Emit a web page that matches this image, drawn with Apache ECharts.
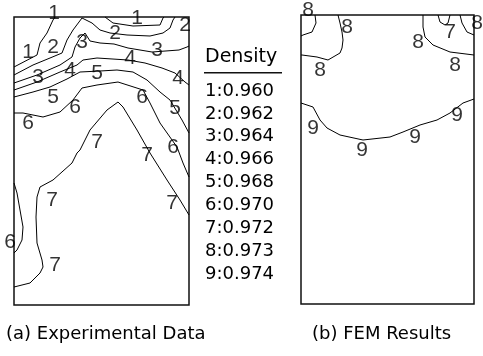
<!DOCTYPE html>
<html>
<head>
<meta charset="utf-8">
<script src="https://cdn.jsdelivr.net/npm/echarts@6/dist/echarts.min.js"></script>
<style>
  html, body { margin: 0; padding: 0; background: #fff; }
  #chart { width: 483px; height: 356px; }
</style>
</head>
<body>
<div id="chart"></div>
<script>
// density legend
var levels = [1, 2, 3, 4, 5, 6, 7, 8, 9];
var densities = [0.960, 0.962, 0.964, 0.966, 0.968, 0.970, 0.972, 0.973, 0.974];

// (a) experimental data - contour lines, x right / y down from top-left corner of the specimen
var expC1a = [[0, 50], [23, 38], [26, 26], [33, 16], [39, 3], [41, 0]];
var expC1b = [[91, 0], [99, 6], [119, 9], [146, 8], [149, 1], [150, 0]];
var expC2 = [[0, 58], [19, 48], [36, 41], [48, 36], [53, 23], [59, 13], [68, 1], [69, 0],
  [78, 6], [86, 13], [96, 16], [113, 18], [136, 19], [149, 16], [156, 11], [159, 3], [161, 0]];
var expC3 = [[0, 66], [23, 58], [46, 48], [58, 40], [61, 30], [66, 21], [71, 16], [76, 24],
  [86, 26], [100, 27], [114, 31], [138, 35], [165, 33], [173, 30], [175, 29]];
var expC4 = [[0, 73], [23, 65], [46, 55], [63, 48], [69, 43], [83, 41], [114, 43], [131, 46],
  [148, 51], [161, 56], [171, 65], [175, 68]];
var expC5 = [[0, 80], [19, 75], [36, 70], [53, 62], [66, 55], [86, 54], [103, 53], [119, 55],
  [133, 63], [146, 75], [156, 83], [168, 103], [175, 116]];
var expC6a = [[0, 96], [9, 96], [29, 100], [46, 95], [59, 83], [68, 71], [83, 68], [104, 65],
  [129, 73], [136, 86], [146, 106], [163, 130], [169, 146], [175, 160]];
var expC6b = [[0, 166], [3, 176], [6, 193], [9, 210], [8, 223], [3, 233], [0, 236]];
var expC7 = [[0, 270], [16, 266], [26, 256], [29, 250], [28, 243], [23, 226], [22, 200], [23, 180],
  [26, 170], [39, 163], [58, 146], [63, 136], [66, 133], [76, 113], [93, 93], [104, 85],
  [109, 90], [123, 113], [136, 136], [153, 163], [166, 183], [175, 198]];
var expLabels = [
  [40, -4, '1'], [14, 35, '1'], [123, 1, '1'],
  [39, 30, '2'], [101, 16, '2'], [171, 8, '2'],
  [24, 60, '3'], [68, 25, '3'], [143, 33, '3'],
  [56, 53, '4'], [116, 41, '4'], [164, 61, '4'],
  [39, 80, '5'], [83, 56, '5'], [161, 91, '5'],
  [14, 106, '6'], [61, 90, '6'], [128, 80, '6'], [159, 130, '6'], [-4, 225, '6'],
  [83, 125, '7'], [133, 138, '7'], [158, 186, '7'], [38, 183, '7'], [41, 248, '7']
];

// (b) FEM results
var femC8a = [[14, 0], [15, 8], [11, 17], [2, 20], [0, 21]];
var femC8b = [[37, 0], [39, 8], [41, 17], [42, 25], [41, 33], [39, 38], [27, 45], [16, 42], [1, 40], [0, 40]];
var femC8c = [[122, 0], [122, 12], [124, 22], [132, 30], [149, 37], [173, 40]];
var femC7 = [[137, 0], [139, 7], [144, 10], [147, 8], [149, 0]];
var femC8d = [[159, 0], [161, 8], [166, 17], [173, 20]];
var femC9 = [[0, 88], [12, 92], [19, 105], [26, 113], [39, 120], [62, 125], [89, 122], [102, 117],
  [119, 110], [136, 105], [149, 98], [162, 88], [173, 84]];
var femLabels = [
  [7, -5, '8'], [46, 12, '8'], [19, 55, '8'], [117, 27, '8'], [154, 50, '8'], [176, 8, '8'],
  [149, 17, '7'],
  [12, 113, '9'], [61, 135, '9'], [114, 122, '9'], [156, 100, '9']
];

var FONT = 'DejaVu Sans';
var LABEL_FONT = 'Liberation Sans';

function contourLine(points, idx) {
  return {
    type: 'line',
    xAxisIndex: idx,
    yAxisIndex: idx,
    data: points,
    symbol: 'none',
    clip: false,
    silent: true,
    lineStyle: { color: '#000', width: 1 }
  };
}

function contourLabels(points, idx) {
  return {
    type: 'scatter',
    xAxisIndex: idx,
    yAxisIndex: idx,
    data: points,
    symbolSize: 1,
    clip: false,
    silent: true,
    itemStyle: { color: 'rgba(0,0,0,0)' },
    label: {
      show: true,
      position: 'inside',
      formatter: function (p) { return p.value[2]; },
      fontFamily: LABEL_FONT,
      fontSize: 21,
      color: '#000'
    }
  };
}

var series = [];
[expC1a, expC1b, expC2, expC3, expC4, expC5, expC6a, expC6b, expC7].forEach(function (c) {
  series.push(contourLine(c, 0));
});
[femC8a, femC8b, femC8c, femC7, femC8d, femC9].forEach(function (c) {
  series.push(contourLine(c, 1));
});
series.push(contourLabels(expLabels, 0));
series.push(contourLabels(femLabels, 1));

var legendTexts = levels.map(function (l, i) {
  return {
    type: 'text',
    left: 205,
    top: 92 + i * 22.9 - 10,
    style: { text: l + ':' + densities[i].toFixed(3), font: '18px "' + FONT + '"', fill: '#000' }
  };
});

var chart = echarts.init(document.getElementById('chart'));
chart.setOption({
  animation: false,
  grid: [
    { left: 14, top: 17, width: 175, height: 288, show: true, borderColor: '#111', borderWidth: 1.5, backgroundColor: '#fff' },
    { left: 301, top: 15, width: 173, height: 289, show: true, borderColor: '#111', borderWidth: 1.5, backgroundColor: '#fff' }
  ],
  xAxis: [
    { type: 'value', gridIndex: 0, min: 0, max: 175, show: false },
    { type: 'value', gridIndex: 1, min: 0, max: 173, show: false }
  ],
  yAxis: [
    { type: 'value', gridIndex: 0, min: 0, max: 288, inverse: true, show: false },
    { type: 'value', gridIndex: 1, min: 0, max: 289, inverse: true, show: false }
  ],
  graphic: [
    { type: 'text', left: 205, top: 48, style: { text: 'Density', font: '19px "' + FONT + '"', fill: '#000' } },
    { type: 'rect', left: 204, top: 72, shape: { width: 78, height: 1.5 }, style: { fill: '#111' } },
    { type: 'text', left: 6, top: 325, style: { text: '(a) Experimental Data', font: '18px "' + FONT + '"', fill: '#000' } },
    { type: 'text', left: 312, top: 325, style: { text: '(b) FEM Results', font: '18px "' + FONT + '"', fill: '#000' } }
  ].concat(legendTexts),
  series: series
});
</script>
</body>
</html>
